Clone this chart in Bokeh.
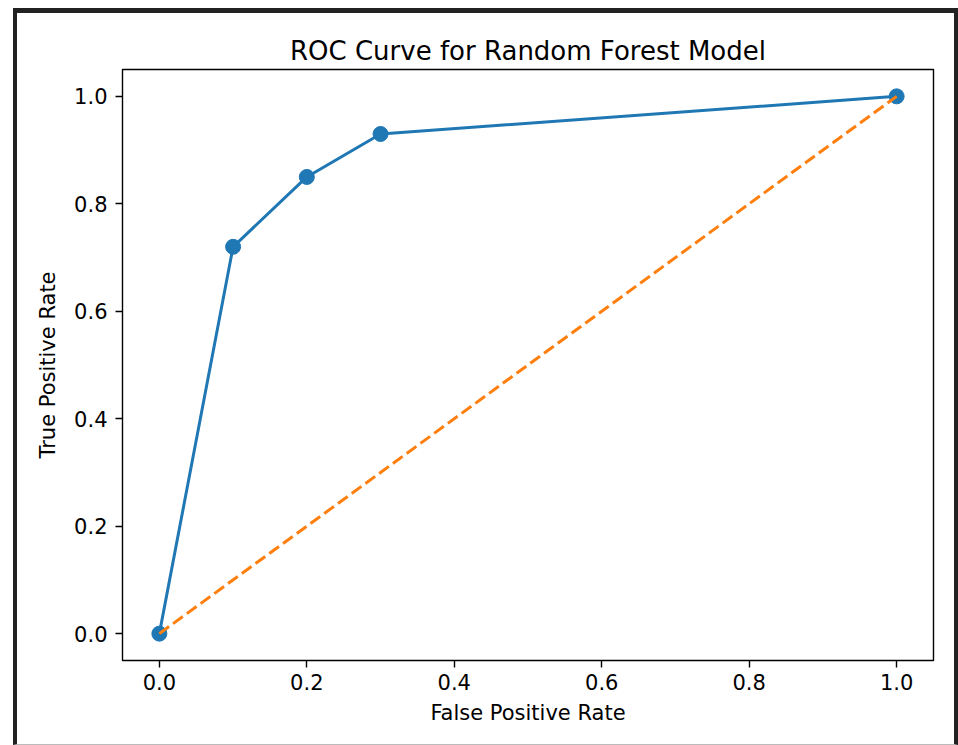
from bokeh.plotting import figure
from bokeh.models import Range1d, FixedTicker, PrintfTickFormatter
from bokeh.embed import file_html
from bokeh.resources import INLINE

# Data
fpr = [0.0, 0.1, 0.2, 0.3, 1.0]
tpr = [0.0, 0.72, 0.85, 0.93, 1.0]
chance_x = [0.0, 1.0]
chance_y = [0.0, 1.0]
tick_values = [0.0, 0.2, 0.4, 0.6, 0.8, 1.0]

title_text = "ROC Curve for Random Forest Model"
x_label = "False Positive Rate"
y_label = "True Positive Rate"

FONT = "DejaVu Sans"

p = figure(
    width=945, height=737,
    output_backend="svg", toolbar_location=None,
    x_range=Range1d(-0.05, 1.05), y_range=Range1d(-0.05, 1.05),
    min_border_left=105, min_border_right=29,
    min_border_top=56, min_border_bottom=90,
    background_fill_color="white", border_fill_color="white",
)
p.margin = (8, 0, 0, 13)
p.styles = {
    "border-top": "5px solid #222222",
    "border-left": "4px solid #222222",
    "border-right": "4px solid #222222",
    "border-bottom": "1px solid #bbbbbb",
}

p.title.text = title_text
p.title.align = "center"
p.title.text_font = FONT
p.title.text_font_size = "26px"
p.title.text_font_style = "normal"
p.title.text_color = "black"
p.title.standoff = 7

p.outline_line_color = "black"
p.outline_line_width = 1.4
p.outline_line_alpha = 1.0
p.grid.visible = False

for ax in (p.xaxis[0], p.yaxis[0]):
    ax.ticker = FixedTicker(ticks=tick_values)
    ax.formatter = PrintfTickFormatter(format="%.1f")
    ax.axis_line_color = None
    ax.major_tick_out = 7
    ax.major_tick_in = 0
    ax.major_tick_line_width = 1.4
    ax.major_tick_line_color = "black"
    ax.minor_tick_line_color = None
    ax.major_label_text_font = FONT
    ax.major_label_text_font_size = "21px"
    ax.major_label_text_color = "black"
    ax.axis_label_text_font = FONT
    ax.axis_label_text_font_size = "21px"
    ax.axis_label_text_font_style = "normal"
    ax.axis_label_text_color = "black"

p.xaxis[0].axis_label = x_label
p.yaxis[0].axis_label = y_label
p.xaxis[0].major_label_standoff = 6
p.yaxis[0].major_label_standoff = 8
p.xaxis[0].axis_label_standoff = 8
p.yaxis[0].axis_label_standoff = 11

# ROC curve
p.line(fpr, tpr, line_color="#1f77b4", line_width=3)
p.scatter(fpr, tpr, size=15, fill_color="#1f77b4", line_color="#1f77b4")

# Chance line
p.line(chance_x, chance_y, line_color="#ff7f0e", line_width=3, line_dash="12 5")

open("out.html", "w").write(file_html(p, INLINE))
